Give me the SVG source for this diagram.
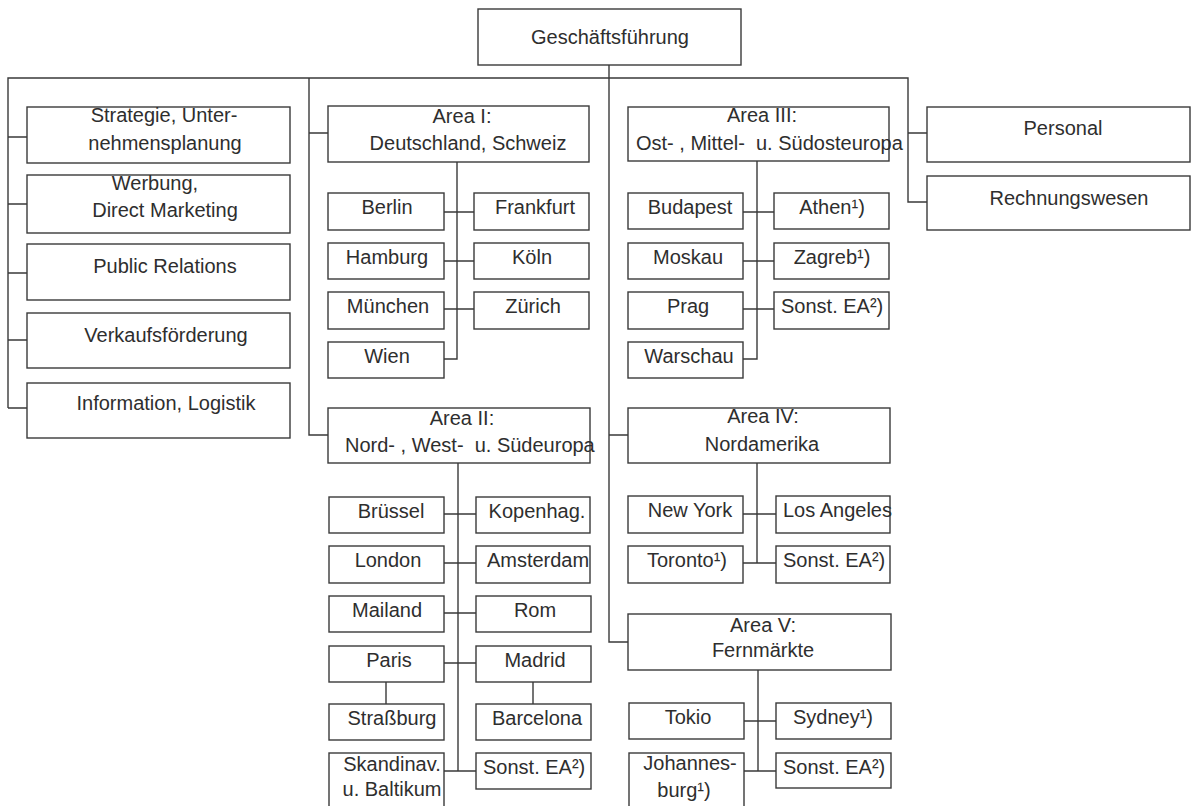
<svg xmlns="http://www.w3.org/2000/svg" width="1191" height="806" viewBox="0 0 1191 806">
<style>
.b{fill:#fff;stroke:#3a3a3a;stroke-width:1.4}
.t{font-family:"Liberation Sans",Arial,sans-serif;font-size:20px;fill:#2e2e2e;text-anchor:middle;white-space:pre}
.s{text-anchor:start}
.c{stroke:#3a3a3a;stroke-width:1.4;fill:none}
</style>
<rect width="1191" height="806" fill="#fff"/>
<g id="connectors" class="c">
<path d="M609 65V642H628M609 435H628"/>
<path d="M8 408V78H908V202H927M908 133H927"/>
<path d="M8 137H27M8 204H27M8 273H27M8 340H27M8 408H27"/>
<path d="M309 78V435H328M309 133H328"/>
<path d="M457 162V359H444M444 212H474M444 261H474M444 309H474"/>
<path d="M757 161V359H743M743 212H774M743 261H774M743 309H774"/>
<path d="M458 463V771M444 514H476M444 563H476M444 613H476M444 663H476M444 771H476M386 682V704M533 682V704"/>
<path d="M757 463V563M743 514H776M743 563H776"/>
<path d="M758 670V771M744 721H776M744 771H776"/>
</g>
<g id="gf"><rect class="b" x="478" y="9" width="263" height="56"/><text class="t" x="610" y="44">Geschäftsführung</text></g>
<g id="strategie"><rect class="b" x="27" y="107" width="263" height="56"/><text class="t" x="164" y="122">Strategie, Unter-</text><text class="t" x="165" y="150">nehmensplanung</text></g>
<g id="werbung"><rect class="b" x="27" y="175" width="263" height="58"/><text class="t" x="155" y="190">Werbung,</text><text class="t" x="165" y="217">Direct Marketing</text></g>
<g id="pr"><rect class="b" x="27" y="244" width="263" height="56"/><text class="t" x="165" y="273">Public Relations</text></g>
<g id="vkf"><rect class="b" x="27" y="313" width="263" height="55"/><text class="t" x="166" y="342">Verkaufsförderung</text></g>
<g id="info"><rect class="b" x="27" y="383" width="263" height="55"/><text class="t" x="166" y="410">Information, Logistik</text></g>
<g id="personal"><rect class="b" x="927" y="107" width="263" height="55"/><text class="t" x="1063" y="135">Personal</text></g>
<g id="rw"><rect class="b" x="927" y="176" width="263" height="54"/><text class="t" x="1069" y="205">Rechnungswesen</text></g>
<g id="area1"><rect class="b" x="328" y="106" width="261" height="56"/><text class="t" x="462" y="123">Area I:</text><text class="t" x="468" y="150">Deutschland, Schweiz</text></g>
<g id="berlin"><rect class="b" x="328" y="193" width="116" height="37"/><text class="t" x="387" y="214">Berlin</text></g>
<g id="frankfurt"><rect class="b" x="474" y="193" width="115" height="37"/><text class="t" x="535" y="214">Frankfurt</text></g>
<g id="hamburg"><rect class="b" x="328" y="243" width="116" height="36"/><text class="t" x="387" y="264">Hamburg</text></g>
<g id="koeln"><rect class="b" x="474" y="243" width="115" height="36"/><text class="t" x="532" y="264">Köln</text></g>
<g id="muenchen"><rect class="b" x="328" y="292" width="116" height="37"/><text class="t" x="388" y="313">München</text></g>
<g id="zuerich"><rect class="b" x="474" y="292" width="115" height="37"/><text class="t" x="533" y="313">Zürich</text></g>
<g id="wien"><rect class="b" x="328" y="342" width="116" height="36"/><text class="t" x="387" y="363">Wien</text></g>
<g id="area3"><rect class="b" x="628" y="107" width="261" height="54"/><text class="t" x="762" y="122">Area III:</text><text class="t s" x="636" y="150">Ost- , Mittel-  u. Südosteuropa</text></g>
<g id="budapest"><rect class="b" x="628" y="193" width="115" height="36"/><text class="t" x="690" y="214">Budapest</text></g>
<g id="athen"><rect class="b" x="774" y="193" width="115" height="36"/><text class="t" x="832" y="214">Athen¹)</text></g>
<g id="moskau"><rect class="b" x="628" y="243" width="115" height="36"/><text class="t" x="688" y="264">Moskau</text></g>
<g id="zagreb"><rect class="b" x="774" y="243" width="115" height="36"/><text class="t" x="832" y="264">Zagreb¹)</text></g>
<g id="prag"><rect class="b" x="628" y="292" width="115" height="37"/><text class="t" x="688" y="313">Prag</text></g>
<g id="sonst3"><rect class="b" x="774" y="292" width="115" height="37"/><text class="t s" x="781" y="313">Sonst. EA²)</text></g>
<g id="warschau"><rect class="b" x="628" y="342" width="115" height="36"/><text class="t" x="689" y="363">Warschau</text></g>
<g id="area2"><rect class="b" x="328" y="408" width="262" height="55"/><text class="t" x="462" y="425">Area II:</text><text class="t s" x="345" y="452">Nord- , West-  u. Südeuropa</text></g>
<g id="bruessel"><rect class="b" x="329" y="497" width="115" height="36"/><text class="t" x="391" y="518">Brüssel</text></g>
<g id="kopenhag"><rect class="b" x="476" y="497" width="114" height="36"/><text class="t" x="537" y="518">Kopenhag.</text></g>
<g id="london"><rect class="b" x="329" y="546" width="115" height="37"/><text class="t" x="388" y="567">London</text></g>
<g id="amsterdam"><rect class="b" x="476" y="546" width="114" height="37"/><text class="t" x="538" y="567">Amsterdam</text></g>
<g id="mailand"><rect class="b" x="329" y="596" width="115" height="36"/><text class="t" x="387" y="617">Mailand</text></g>
<g id="rom"><rect class="b" x="476" y="596" width="115" height="36"/><text class="t" x="535" y="617">Rom</text></g>
<g id="paris"><rect class="b" x="329" y="646" width="115" height="36"/><text class="t" x="389" y="667">Paris</text></g>
<g id="madrid"><rect class="b" x="476" y="646" width="115" height="36"/><text class="t" x="535" y="667">Madrid</text></g>
<g id="strassburg"><rect class="b" x="329" y="704" width="115" height="36"/><text class="t" x="392" y="725">Straßburg</text></g>
<g id="barcelona"><rect class="b" x="476" y="704" width="115" height="36"/><text class="t" x="537" y="725">Barcelona</text></g>
<g id="skandinav"><rect class="b" x="329" y="753" width="115" height="60"/><text class="t" x="392" y="771">Skandinav.</text><text class="t" x="392" y="796">u. Baltikum</text></g>
<g id="sonst2"><rect class="b" x="476" y="753" width="115" height="36"/><text class="t s" x="483" y="774">Sonst. EA²)</text></g>
<g id="area4"><rect class="b" x="628" y="408" width="262" height="55"/><text class="t" x="763" y="423">Area IV:</text><text class="t" x="762" y="451">Nordamerika</text></g>
<g id="newyork"><rect class="b" x="628" y="496" width="115" height="37"/><text class="t" x="690" y="517">New York</text></g>
<g id="losangeles"><rect class="b" x="776" y="496" width="114" height="37"/><text class="t s" x="783" y="517">Los Angeles</text></g>
<g id="toronto"><rect class="b" x="628" y="546" width="115" height="37"/><text class="t" x="687" y="567">Toronto¹)</text></g>
<g id="sonst4"><rect class="b" x="776" y="546" width="114" height="37"/><text class="t s" x="783" y="567">Sonst. EA²)</text></g>
<g id="area5"><rect class="b" x="628" y="614" width="263" height="56"/><text class="t" x="763" y="632">Area V:</text><text class="t" x="763" y="657">Fernmärkte</text></g>
<g id="tokio"><rect class="b" x="629" y="703" width="115" height="36"/><text class="t" x="688" y="724">Tokio</text></g>
<g id="sydney"><rect class="b" x="776" y="703" width="115" height="36"/><text class="t" x="833" y="724">Sydney¹)</text></g>
<g id="johannesburg"><rect class="b" x="629" y="753" width="115" height="60"/><text class="t" x="690" y="770">Johannes-</text><text class="t" x="684" y="797">burg¹)</text></g>
<g id="sonst5"><rect class="b" x="776" y="753" width="115" height="35"/><text class="t s" x="783" y="774">Sonst. EA²)</text></g>
</svg>
